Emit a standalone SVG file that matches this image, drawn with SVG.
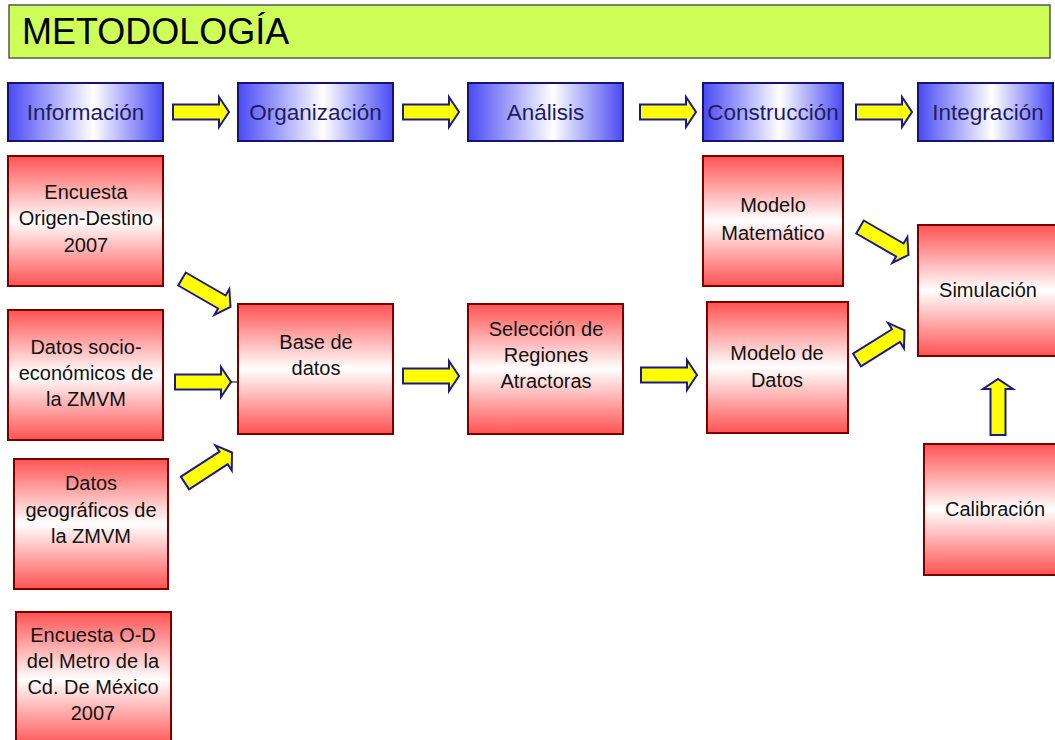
<svg xmlns="http://www.w3.org/2000/svg" width="1055" height="740" viewBox="0 0 1055 740">
  <style>
    .title { font-family: "Liberation Sans", Arial, sans-serif; font-size: 36px; fill: #000; }
    .stage rect { fill: url(#blueGrad); stroke: #14146e; stroke-width: 2; }
    .stage text { font-family: "Liberation Sans", Arial, sans-serif; font-size: 22.5px; fill: #1c1c66; text-anchor: middle; }
    .box rect { fill: url(#redGrad); stroke: #7a0000; stroke-width: 2; }
    .box text { font-family: "Liberation Sans", Arial, sans-serif; font-size: 20px; fill: #111; text-anchor: middle; }
    .arrow { fill: #ffff00; stroke: #1a1a8a; stroke-width: 2; stroke-linejoin: miter; }
  </style>
  <defs>
    <linearGradient id="blueGrad" x1="0" y1="0" x2="1" y2="0">
      <stop offset="0" stop-color="#4a4af5"/>
      <stop offset="0.55" stop-color="#ffffff"/>
      <stop offset="1" stop-color="#4a4af5"/>
    </linearGradient>
    <linearGradient id="redGrad" x1="0" y1="0" x2="0" y2="1">
      <stop offset="0" stop-color="#ff5252"/>
      <stop offset="0.5" stop-color="#ffffff"/>
      <stop offset="1" stop-color="#ff5252"/>
    </linearGradient>
    <!-- block arrow pointing along +x, 56 px long -->
    <path id="blockArrow" class="arrow" d="M0,-7.5 H46 V-15 L56,0 L46,15 V7.5 H0 Z"/>
  </defs>

  <rect width="1055" height="740" fill="#ffffff"/>

  <!-- title bar -->
  <g id="title">
    <rect x="9" y="5" width="1041" height="53" fill="#cdff58" stroke="#555" stroke-width="1.5"/>
    <text class="title" x="22" y="44">METODOLOGÍA</text>
  </g>

  <!-- stage headers -->
  <g id="stage-informacion" class="stage">
    <rect x="8" y="83" width="155" height="58"/>
    <text x="85.5" y="120">Información</text>
  </g>
  <g id="stage-organizacion" class="stage">
    <rect x="238" y="83" width="155" height="58"/>
    <text x="315.5" y="120">Organización</text>
  </g>
  <g id="stage-analisis" class="stage">
    <rect x="468" y="83" width="155" height="58"/>
    <text x="545.5" y="120">Análisis</text>
  </g>
  <g id="stage-construccion" class="stage">
    <rect x="703" y="83" width="140" height="58"/>
    <text x="773" y="120">Construcción</text>
  </g>
  <g id="stage-integracion" class="stage">
    <rect x="918" y="83" width="135" height="58"/>
    <text x="988" y="120">Integración</text>
  </g>

  <!-- process boxes -->
  <g id="encuesta-od" class="box">
    <rect x="8" y="156" width="155" height="130"/>
    <text x="86" y="199">Encuesta</text>
    <text x="86" y="225">Origen-Destino</text>
    <text x="86" y="252">2007</text>
  </g>
  <g id="datos-socio" class="box">
    <rect x="8" y="310" width="155" height="130"/>
    <text x="86" y="354">Datos socio-</text>
    <text x="86" y="380">económicos de</text>
    <text x="86" y="406">la ZMVM</text>
  </g>
  <g id="datos-geo" class="box">
    <rect x="14" y="459" width="154" height="130"/>
    <text x="91" y="490">Datos</text>
    <text x="91" y="517">geográficos de</text>
    <text x="91" y="543">la ZMVM</text>
  </g>
  <g id="encuesta-metro" class="box">
    <rect x="16" y="612" width="155" height="135"/>
    <text x="93" y="642">Encuesta O-D</text>
    <text x="93" y="668">del Metro de la</text>
    <text x="93" y="694">Cd. De México</text>
    <text x="93" y="720">2007</text>
  </g>
  <g id="base-datos" class="box">
    <rect x="238" y="304" width="155" height="130"/>
    <text x="316" y="349">Base de</text>
    <text x="316" y="375">datos</text>
  </g>
  <g id="seleccion" class="box">
    <rect x="468" y="304" width="155" height="130"/>
    <text x="546" y="336">Selección de</text>
    <text x="546" y="362">Regiones</text>
    <text x="546" y="388">Atractoras</text>
  </g>
  <g id="modelo-matematico" class="box">
    <rect x="703" y="156" width="140" height="130"/>
    <text x="773" y="212">Modelo</text>
    <text x="773" y="240">Matemático</text>
  </g>
  <g id="modelo-datos" class="box">
    <rect x="707" y="302" width="141" height="131"/>
    <text x="777" y="360">Modelo de</text>
    <text x="777" y="387">Datos</text>
  </g>
  <g id="simulacion" class="box">
    <rect x="918" y="225" width="145" height="131"/>
    <text x="988" y="297">Simulación</text>
  </g>
  <g id="calibracion" class="box">
    <rect x="924" y="444" width="140" height="131"/>
    <text x="995" y="516">Calibración</text>
  </g>

  <!-- connectors -->
  <g id="connectors">
    <use href="#blockArrow" transform="translate(173,112)"/>
    <use href="#blockArrow" transform="translate(403,112)"/>
    <use href="#blockArrow" transform="translate(640,112)"/>
    <use href="#blockArrow" transform="translate(856,112)"/>

    <use href="#blockArrow" transform="translate(182,279) rotate(30)"/>
    <use href="#blockArrow" transform="translate(175,382)"/>
    <line x1="231" y1="382" x2="238" y2="382" stroke="#222" stroke-width="1.2"/>
    <use href="#blockArrow" transform="translate(185,483) rotate(-33)"/>

    <use href="#blockArrow" transform="translate(403,376)"/>
    <use href="#blockArrow" transform="translate(641,375)"/>

    <use href="#blockArrow" transform="translate(860,227) rotate(30)"/>
    <use href="#blockArrow" transform="translate(857,360) rotate(-32)"/>
    <use href="#blockArrow" transform="translate(998,435) rotate(-90)"/>
  </g>
</svg>
